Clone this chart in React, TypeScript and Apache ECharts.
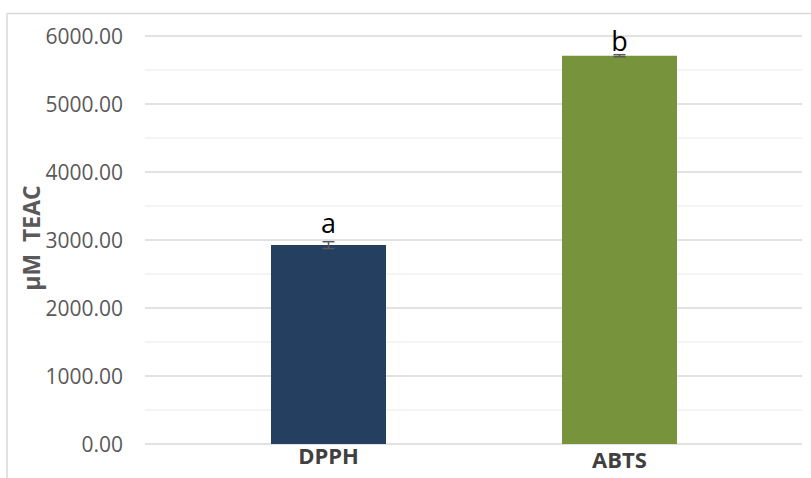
import React, { useEffect, useRef } from "react";
import * as echarts from "echarts";

const categories = ["DPPH", "ABTS"];
const values = [2925, 5710];
const errors = [50, 15];
const letters = ["a", "b"];
const barColors = ["#243F60", "#77933C"];
const yTicks = { min: 0, max: 6000, interval: 1000 };

export default function App() {
  const ref = useRef<HTMLDivElement>(null);
  useEffect(() => {
    if (!ref.current) return;
    const chart = echarts.init(ref.current, null, { renderer: "svg" });
    const labelDistances = [9, 2];
    const option: any = {
      animation: false,
      backgroundColor: "#ffffff",
      grid: [
        { left: 145, right: 9, top: 36, bottom: 34 },
        { left: 183, right: 46, top: 36, bottom: 34 },
      ],
      xAxis: [
        { gridIndex: 0, type: "value", min: 0, max: 1, show: false },
        {
          gridIndex: 1,
          type: "category",
          data: categories,
          axisLine: { show: false },
          axisTick: { show: false },
          axisLabel: {
            margin: 0,
            formatter: (v: string, i: number) => (i === 0 ? `{a|${v}}` : `{b|${v}}`),
            rich: {
              a: { fontFamily: "Open Sans", fontWeight: "bold", fontSize: 22, color: "#404040", lineHeight: 22 },
              b: { fontFamily: "Open Sans", fontWeight: "bold", fontSize: 22, color: "#404040", lineHeight: 22, padding: [7, 0, 0, 0] },
            },
          },
        },
      ],
      yAxis: [
        {
          gridIndex: 0,
          type: "value",
          min: yTicks.min,
          max: yTicks.max,
          interval: yTicks.interval,
          axisLine: { show: false },
          axisTick: { show: false },
          axisLabel: {
            margin: 22,
            fontFamily: "Open Sans",
            fontSize: 21,
            color: "#595959",
            formatter: (v: number) => v.toFixed(2),
          },
          splitLine: { show: true, lineStyle: { color: "#d9d9d9", width: 1.5 } },
          minorTick: { show: false, splitNumber: 2 },
          minorSplitLine: { show: true, lineStyle: { color: "#f0f0f0", width: 1.5 } },
        },
        {
          gridIndex: 1,
          type: "value",
          min: yTicks.min,
          max: yTicks.max,
          interval: yTicks.interval,
          show: false,
        },
      ],
      series: [
        {
          type: "bar",
          xAxisIndex: 1,
          yAxisIndex: 1,
          barWidth: 115,
          data: values.map((v, i) => ({
            value: v,
            itemStyle: { color: barColors[i] },
            label: {
              show: true,
              position: "top",
              distance: labelDistances[i],
              formatter: letters[i],
              fontFamily: "Open Sans",
              fontSize: 27,
              color: "#000000",
            },
          })),
          z: 2,
        },
        {
          type: "custom",
          xAxisIndex: 1,
          yAxisIndex: 1,
          data: values.map((v, i) => [i, v - errors[i], v + errors[i]]),
          z: 3,
          renderItem: (params: any, api: any) => {
            const lo = api.coord([api.value(0), api.value(1)]);
            const hi = api.coord([api.value(0), api.value(2)]);
            const w = 6;
            const style = { stroke: "#595959", lineWidth: 1.5 };
            return {
              type: "group",
              children: [
                { type: "line", shape: { x1: lo[0], y1: lo[1], x2: hi[0], y2: hi[1] }, style },
                { type: "line", shape: { x1: lo[0] - w, y1: lo[1], x2: lo[0] + w, y2: lo[1] }, style },
                { type: "line", shape: { x1: hi[0] - w, y1: hi[1], x2: hi[0] + w, y2: hi[1] }, style },
              ],
            };
          },
        },
      ],
      graphic: [
        {
          type: "polyline",
          shape: { points: [[7, 478], [7, 13.5], [811, 13.5]] },
          style: { stroke: "#d9d9d9", lineWidth: 1.5, fill: null },
        },
        {
          type: "text",
          x: 31,
          y: 238,
          rotation: Math.PI / 2,
          style: {
            text: "µM  TEAC",
            fontFamily: "Open Sans",
            fontWeight: "bold",
            fontSize: 23,
            fill: "#595959",
            align: "center",
            verticalAlign: "middle",
          },
        },
      ],
    };
    chart.setOption(option);
    return () => chart.dispose();
  }, []);
  return (
    <div
      ref={ref}
      style={{ position: "absolute", left: 0, top: 0, width: 811, height: 478 }}
    />
  );
}
